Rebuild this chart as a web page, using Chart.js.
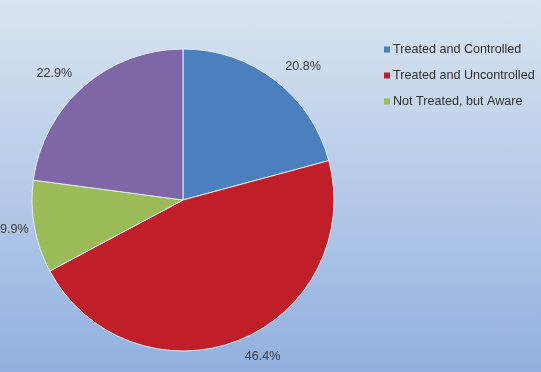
<!DOCTYPE html>
<html>
<head>
<meta charset="utf-8">
<script src="https://cdn.jsdelivr.net/npm/chart.js@4/dist/chart.umd.min.js"></script>
<style>
  html, body { margin: 0; padding: 0; }
  body {
    width: 541px; height: 372px; overflow: hidden;
    background: linear-gradient(to bottom, #d9e4f1 0%, #b6cbe9 50%, #91b0df 100%);
  }
  canvas { display: block; }
</style>
</head>
<body>
<canvas id="pie" width="541" height="372"></canvas>
<script>
// Chart data
const categories = ['Treated and Controlled', 'Treated and Uncontrolled', 'Not Treated, but Aware', 'Not Treated and Unaware'];
const values = [20.8, 46.4, 9.9, 22.9];
const sliceColors = ['#4a80bd', '#c01e28', '#9bbb59', '#7f66a6'];
// only these show in the legend of the original
const legendShown = [true, true, true, false];

const FONT = '"Liberation Sans", Arial, sans-serif';

// percentage labels just outside each slice
const outsideLabels = {
  id: 'outsideLabels',
  afterDatasetsDraw(chart) {
    const ctx = chart.ctx;
    const arcs = chart.getDatasetMeta(0).data;
    ctx.save();
    ctx.font = '12.6px ' + FONT;
    ctx.fillStyle = '#3c3c3c';
    ctx.textAlign = 'center';
    ctx.textBaseline = 'middle';
    arcs.forEach((arc, i) => {
      const p = arc.getProps(['x', 'y', 'startAngle', 'endAngle', 'outerRadius'], true);
      const mid = (p.startAngle + p.endAngle) / 2;
      const cos = Math.cos(mid), sin = Math.sin(mid);
      const r = p.outerRadius + 17;
      const txt = values[i].toFixed(1) + '%';
      const w = ctx.measureText(txt).width;
      let x = p.x + cos * r + Math.sign(cos) * w / 2;
      const y = p.y + sin * r;
      x = Math.max(x, w / 2);
      ctx.fillText(txt, x, y);
    });
    ctx.restore();
  }
};

// legend on the right, drawn by hand
const sideLegend = {
  id: 'sideLegend',
  afterDraw(chart) {
    const ctx = chart.ctx;
    ctx.save();
    ctx.font = '12.6px ' + FONT;
    ctx.textBaseline = 'middle';
    let y = 49.5;
    categories.forEach((name, i) => {
      if (!legendShown[i]) return;
      ctx.fillStyle = sliceColors[i];
      ctx.fillRect(384, y - 3, 6, 6);
      ctx.fillStyle = '#303030';
      ctx.fillText(name, 393, y);
      y += 26;
    });
    ctx.restore();
  }
};

new Chart(document.getElementById('pie'), {
  type: 'pie',
  data: {
    labels: categories,
    datasets: [{
      data: values,
      backgroundColor: sliceColors,
      borderColor: '#e4e9f2',
      borderWidth: 1,
      hoverOffset: 0
    }]
  },
  options: {
    responsive: false,
    animation: false,
    radius: 151,
    layout: { padding: { left: 0, right: 175, top: 28, bottom: 0 } },
    plugins: {
      legend: { display: false },
      tooltip: { enabled: false }
    }
  },
  plugins: [outsideLabels, sideLegend]
});
</script>
</body>
</html>
